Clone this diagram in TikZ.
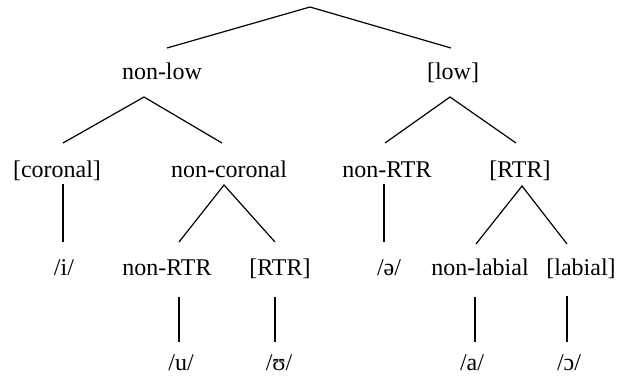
\documentclass[tikz,border=0pt]{standalone}
\usepackage{fontspec}
\setmainfont{Liberation Serif}
\usepackage{tikz}
\usetikzlibrary{calc}

\begin{document}
\begin{tikzpicture}[x=1pt,y=-1pt,line width=1.2pt,
    lbl/.style={anchor=base,inner sep=0pt,font=\fontsize{24}{28}\selectfont}]
    \useasboundingbox (0,0) rectangle (618,376);

    \coordinate (A0) at (310,7);
    \coordinate (A1) at (167,48);
    \coordinate (A2) at (451,48);

    \coordinate (B0) at (144,97);
    \coordinate (B1) at (63,143);
    \coordinate (B2) at (222,143);
    \coordinate (B3) at (450,97);
    \coordinate (B4) at (385,143);
    \coordinate (B5) at (516,143);

    \coordinate (C0) at (63,184);
    \coordinate (C1) at (63,242);
    \coordinate (C2) at (224,185);
    \coordinate (C3) at (179,242);
    \coordinate (C4) at (275,242);
    \coordinate (C5) at (384,184);
    \coordinate (C6) at (384,242);
    \coordinate (C7) at (522,186);
    \coordinate (C8) at (476,244);
    \coordinate (C9) at (567,244);

    \coordinate (D0) at (179,297);
    \coordinate (D1) at (179,342);
    \coordinate (D2) at (275,297);
    \coordinate (D3) at (275,342);
    \coordinate (D4) at (475,297);
    \coordinate (D5) at (475,342);
    \coordinate (D6) at (567,296);
    \coordinate (D7) at (567,342);

     \draw (A1) -- (A0) -- (A2);
     \draw (B1) -- (B0) -- (B2);
     \draw (B4) -- (B3) -- (B5);
     \draw (C0) -- (C1);
     \draw (C3) -- (C2) -- (C4);
     \draw (C5) -- (C6);
     \draw (C8) -- (C7) -- (C9);
     \draw (D0) -- (D1);
     \draw (D2) -- (D3);
     \draw (D4) -- (D5);
     \draw (D6) -- (D7);

     \node [lbl] (nonlow) at (162,79) {non-low};
     \node [lbl] (low) at (453,79) {[low]};
     \node [lbl] (coronal) at (57,177) {[coronal]};
     \node [lbl] (noncoronal) at (229,177) {non-coronal};
     \node [lbl] (nonrtr) at (387,177) {non-RTR};
     \node [lbl] (rtr) at (520,177) {[RTR]};
     \node [lbl] (vi) at (64,275) {/i/};
     \node [lbl] (nonrtrhi) at (167,275) {non-RTR};
     \node [lbl] (rtrhi) at (280,275) {[RTR]};
     \node [lbl] (vschwa) at (389,275) {/ə/};
     \node [lbl] (nonlabial) at (480,275) {non-labial};
     \node [lbl] (labial) at (581,275) {[labial]};
     \node [lbl] (vu) at (181,370) {/u/};
     \node [lbl] (vupsilon) at (279,370) {/ʊ/};
     \node [lbl] (va) at (472,370) {/a/};
     \node [lbl] (vopeno) at (569,370) {/ɔ/};
  \end{tikzpicture}
\end{document}
